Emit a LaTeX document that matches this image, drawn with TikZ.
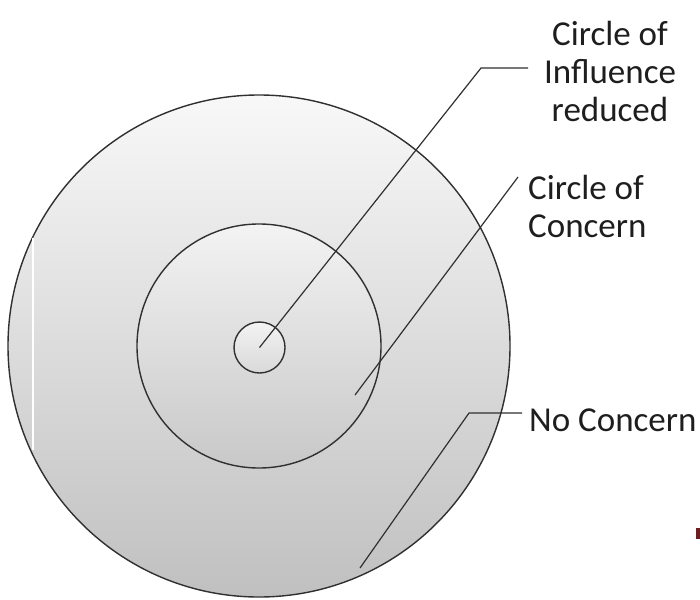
\documentclass[tikz,border=0pt]{standalone}
\usepackage{fontspec}
\setmainfont{Carlito}
\definecolor{linegray}{HTML}{303030}
\definecolor{txt}{HTML}{1E1E1E}
\definecolor{gtop}{HTML}{F8F8F8}
\definecolor{gbot}{HTML}{C0C0C0}
\definecolor{mtop}{HTML}{F3F3F3}
\definecolor{mbot}{HTML}{C8C8C8}
\definecolor{marker}{HTML}{6E1E1E}
\begin{document}
\begin{tikzpicture}[x=1pt,y=-1pt,
  ring/.style={circle, draw=linegray, line width=1.4pt, inner sep=0pt, outer sep=0pt},
  leader/.style={draw=linegray, line width=1.2pt},
  lbl/.style={text=txt, inner sep=0pt, font=\fontsize{35}{38}\selectfont}]
\useasboundingbox (0,0) rectangle (700,599);
\node[ring, minimum size=502pt, top color=gtop, bottom color=gbot] (outer) at (259,346) {};
\node[ring, minimum size=244pt, top color=mtop, bottom color=mbot] (middle) at (259,346) {};
\node[ring, minimum size=51pt, top color=mtop, bottom color=mbot!70!white] (inner) at (259.5,347.5) {};
% artifacts
\draw[white, line width=1.8pt] (33,238) -- (33,450);
\fill[marker] (696,528) rectangle (700,539);
% labels
\node[lbl, anchor=north, align=center] (infl) at (610,21) {Circle of\\Influence\\reduced};
\node[lbl, anchor=north west, align=left] (conc) at (528,175) {Circle of\\Concern};
\node[lbl, anchor=base west] (nocon) at (529,431) {No Concern};
% leaders
\coordinate (i1) at (481,68);
\coordinate (i2) at (528,68);
\coordinate (c1) at (355,395);
\coordinate (c2) at (518,177);
\coordinate (n1) at (360,568);
\coordinate (n2) at (469,413);
\coordinate (n3) at (522,413);
\draw[leader] (inner.center) -- (i1) -- (i2);
\draw[leader] (c1) -- (c2);
\draw[leader] (n1) -- (n2) -- (n3);
\end{tikzpicture}
\end{document}
